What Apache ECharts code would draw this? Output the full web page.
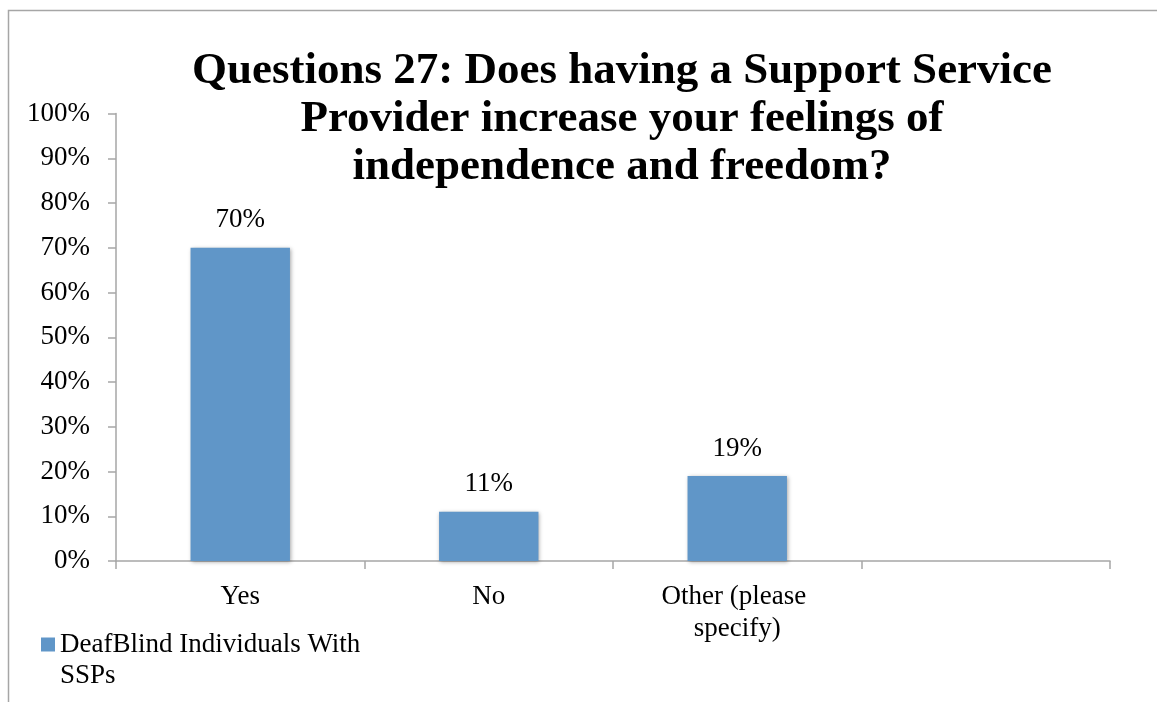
<!DOCTYPE html>
<html>
<head>
<meta charset="utf-8">
<script src="https://cdn.jsdelivr.net/npm/echarts@6/dist/echarts.min.js"></script>
<style>
  html, body { margin: 0; padding: 0; background: #fff; }
  #chart { width: 1157px; height: 702px; }
</style>
</head>
<body>
<div id="chart"></div>
<script>
// Survey answers, share of respondents (%)
const categories = ['Yes', 'No', 'Other (please specify)', ''];
const shares = [70, 11, 19, null];
const seriesName = 'DeafBlind Individuals With SSPs';
const titleText = 'Questions 27: Does having a Support Service\nProvider increase your feelings of\nindependence and freedom?';

const serif = '"Liberation Serif", "DejaVu Serif", serif';
const axisGray = '#a6a6a6';

const chart = echarts.init(document.getElementById('chart'));
chart.setOption({
  animation: false,
  backgroundColor: '#fff',
  textStyle: { fontFamily: serif, color: '#000' },
  title: {
    text: titleText,
    left: 617,
    textAlign: 'center',
    top: 42,
    textStyle: {
      fontFamily: serif,
      fontWeight: 'bold',
      fontSize: 45,
      lineHeight: 48,
      color: '#000'
    }
  },
  graphic: [{
    type: 'rect',
    silent: true,
    shape: { x: 8.5, y: 10.5, width: 1300, height: 900 },
    style: { fill: 'none', stroke: axisGray, lineWidth: 1.5 }
  }],
  legend: {
    left: 41,
    top: 598,
    padding: 0,
    orient: 'vertical',
    itemWidth: 14,
    itemHeight: 14,
    icon: 'rect',
    // leading blank line keeps the swatch level with the first text line
    formatter: () => '\nDeafBlind Individuals With\nSSPs',
    textStyle: {
      fontFamily: serif,
      fontSize: 27,
      lineHeight: 31,
      color: '#000'
    },
    data: [seriesName]
  },
  grid: { left: 116, right: 47, top: 113.5, bottom: 141, containLabel: false },
  xAxis: {
    type: 'category',
    data: categories,
    axisLine: { lineStyle: { color: axisGray, width: 1.5 } },
    axisTick: { show: true, length: 8, inside: false, lineStyle: { color: axisGray, width: 1.5 } },
    axisLabel: {
      fontFamily: serif,
      fontSize: 27,
      lineHeight: 32,
      color: '#000',
      margin: 20,
      width: 180,
      overflow: 'break',
      interval: 0
    }
  },
  yAxis: {
    type: 'value',
    min: 0,
    max: 100,
    interval: 10,
    axisLine: { show: true, lineStyle: { color: axisGray, width: 1.5 } },
    axisTick: { show: true, length: 8, lineStyle: { color: axisGray, width: 1.5 } },
    splitLine: { show: false },
    axisLabel: {
      fontFamily: serif,
      fontSize: 27,
      color: '#000',
      margin: 26,
      formatter: '{value}%'
    }
  },
  series: [{
    name: seriesName,
    type: 'bar',
    data: shares,
    barWidth: '40%',
    itemStyle: {
      color: '#6096c8',
      shadowColor: 'rgba(0,0,0,0.35)',
      shadowBlur: 4,
      shadowOffsetX: 1,
      shadowOffsetY: 1
    },
    label: {
      show: true,
      position: 'top',
      distance: 14,
      fontFamily: serif,
      fontSize: 27,
      color: '#000',
      formatter: (p) => p.value + '%'
    }
  }]
});
</script>
</body>
</html>
